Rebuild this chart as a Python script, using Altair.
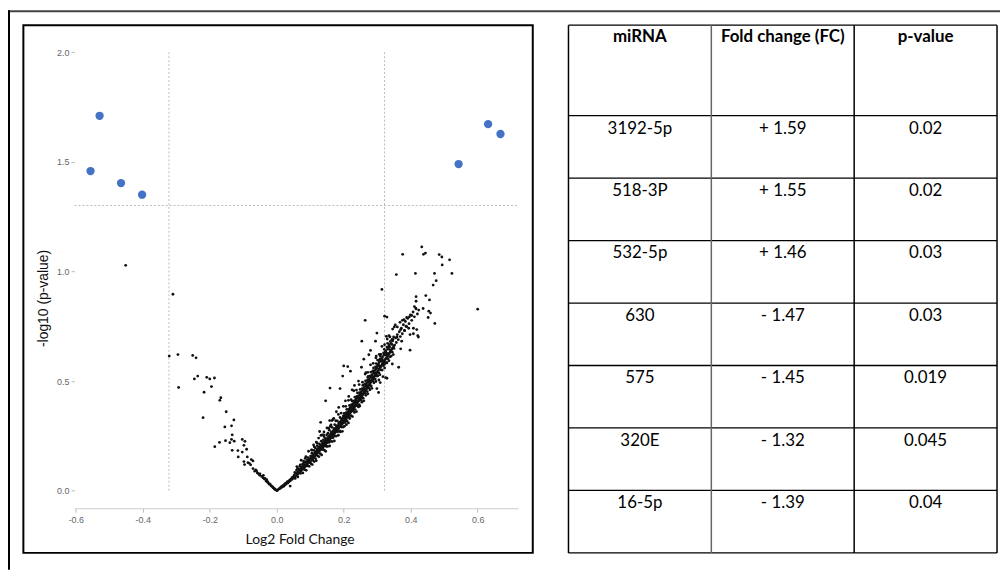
import altair as alt
import pandas as pd

# ---------------- data ----------------
# background miRNAs (log2 FC, -log10 p)
left_arm = [(-0.310,0.896),(-0.321,0.614),(-0.295,0.621),(-0.251,0.617),(-0.241,0.606),(-0.293,0.471),
            (-0.246,0.510),(-0.236,0.523),(-0.209,0.517),(-0.200,0.510),(-0.186,0.514),(-0.195,0.475),
            (-0.217,0.449),(-0.220,0.333),(-0.167,0.424),(-0.170,0.412),(-0.151,0.360),(-0.128,0.323),
            (-0.155,0.291),(-0.135,0.296),(-0.133,0.255),(-0.185,0.201),(-0.171,0.220),(-0.153,0.228),
            (-0.140,0.219),(-0.135,0.234),(-0.127,0.226),(-0.133,0.184),(-0.103,0.234),(-0.095,0.225),
            (-0.098,0.207),(-0.090,0.189),(-0.103,0.176),(-0.116,0.183),(-0.115,0.154),(-0.088,0.154),
            (-0.098,0.133),(-0.086,0.128),(-0.076,0.142),(-0.071,0.136),(-0.096,0.119),(-0.071,0.101),
            (-0.066,0.089),(-0.058,0.081),(-0.051,0.071),(-0.041,0.059),(-0.037,0.053),(-0.032,0.044),
            (-0.027,0.038),(-0.022,0.029),(-0.017,0.023),(-0.011,0.014),(-0.007,0.008),(-0.045,0.065),
            (-0.040,0.070),(-0.035,0.056),(-0.030,0.050),(-0.028,0.042),(-0.025,0.035),(-0.020,0.030),
            (-0.015,0.020),(-0.012,0.017),(-0.008,0.011),(-0.005,0.006),(-0.003,0.004),(-0.060,0.090),
            (-0.063,0.095),(-0.055,0.078),(-0.050,0.077),(-0.078,0.118),(-0.082,0.125),(-0.451,1.028)]

near_vertex = [(0.000,0.001),(0.002,0.002),(0.004,0.005),(0.008,0.009),(0.010,0.013),(0.012,0.012),
               (0.014,0.018),(0.016,0.017),(0.018,0.022),(0.020,0.024),(0.021,0.020),(0.023,0.029),
               (0.025,0.027),(0.026,0.033),(0.028,0.031),(0.030,0.036),(0.031,0.040),(0.033,0.035),
               (0.035,0.044),(0.036,0.040),(0.038,0.047),(0.040,0.045),(0.041,0.052),(0.043,0.049),
               (0.045,0.058),(0.046,0.053),(0.048,0.062),(0.050,0.057),(0.040,0.021)]

band_a = [(0.052,0.071),(0.054,0.062),(0.054,0.083),(0.057,0.079),(0.059,0.069),(0.059,0.094),
          (0.062,0.085),(0.062,0.074),(0.065,0.080),(0.065,0.101),(0.067,0.093),(0.069,0.084),
          (0.069,0.112),(0.072,0.101),(0.072,0.090),(0.074,0.108),(0.074,0.094),(0.077,0.099),
          (0.077,0.121),(0.079,0.113),(0.081,0.104),(0.081,0.128),(0.084,0.119),(0.084,0.109),
          (0.086,0.131),(0.086,0.112),(0.089,0.117),(0.089,0.127),(0.091,0.139),(0.091,0.121),
          (0.093,0.134),(0.093,0.151),(0.096,0.128),(0.096,0.140),(0.098,0.146),(0.098,0.131),
          (0.062,0.100),(0.070,0.118),(0.080,0.135),(0.085,0.147)]

band_b = [(0.101,0.136),(0.101,0.158),(0.103,0.149),(0.105,0.143),(0.105,0.171),(0.105,0.155),
          (0.107,0.147),(0.107,0.160),(0.109,0.166),(0.109,0.150),(0.111,0.153),(0.111,0.184),
          (0.113,0.158),(0.113,0.171),(0.115,0.161),(0.115,0.177),(0.115,0.196),(0.117,0.164),
          (0.117,0.174),(0.119,0.181),(0.119,0.168),(0.121,0.170),(0.121,0.189),(0.121,0.205),
          (0.123,0.175),(0.123,0.186),(0.125,0.178),(0.125,0.197),(0.127,0.181),(0.127,0.192),
          (0.127,0.214),(0.129,0.185),(0.129,0.200),(0.131,0.188),(0.131,0.207),(0.133,0.191),
          (0.133,0.203),(0.133,0.226),(0.135,0.195),(0.135,0.212),(0.137,0.198),(0.137,0.219),
          (0.137,0.208),(0.139,0.201),(0.139,0.232),(0.141,0.205),(0.141,0.216),(0.141,0.247),
          (0.143,0.208),(0.143,0.225),(0.145,0.211),(0.145,0.222),(0.145,0.238),(0.147,0.214),
          (0.147,0.231),(0.149,0.218),(0.149,0.229),(0.149,0.254),
          (0.105,0.185),(0.112,0.200),(0.118,0.222),(0.125,0.240),(0.131,0.312),(0.135,0.255),
          (0.141,0.268),(0.146,0.410),(0.128,0.270)]

band_c = [(0.151,0.221),(0.151,0.236),(0.153,0.225),(0.153,0.243),(0.153,0.262),(0.155,0.229),
          (0.155,0.240),(0.157,0.233),(0.157,0.251),(0.157,0.276),(0.159,0.236),(0.159,0.247),
          (0.161,0.240),(0.161,0.259),(0.161,0.252),(0.163,0.244),(0.163,0.268),(0.165,0.248),
          (0.165,0.261),(0.165,0.289),(0.167,0.252),(0.167,0.266),(0.169,0.255),(0.169,0.274),
          (0.169,0.263),(0.171,0.259),(0.171,0.283),(0.173,0.263),(0.173,0.276),(0.173,0.301),
          (0.175,0.267),(0.175,0.281),(0.177,0.270),(0.177,0.289),(0.177,0.279),(0.179,0.274),
          (0.179,0.297),(0.181,0.278),(0.181,0.291),(0.181,0.318),(0.183,0.282),(0.183,0.296),
          (0.185,0.286),(0.185,0.305),(0.185,0.294),(0.187,0.290),(0.187,0.312),(0.189,0.293),
          (0.189,0.307),(0.189,0.334),(0.191,0.297),(0.191,0.316),(0.193,0.301),(0.193,0.310),
          (0.193,0.327),(0.195,0.305),(0.195,0.322),(0.197,0.308),(0.197,0.331),(0.197,0.318),
          (0.199,0.312),(0.199,0.341),
          (0.158,0.320),(0.155,0.285),(0.162,0.300),(0.170,0.330),(0.159,0.468),(0.189,0.466),
          (0.178,0.360),(0.185,0.380),(0.165,0.320),(0.197,0.523),(0.200,0.569)]

band_d = [(0.201,0.316),(0.201,0.329),(0.201,0.352),(0.203,0.320),(0.203,0.338),(0.205,0.325),
          (0.205,0.344),(0.205,0.334),(0.207,0.329),(0.207,0.356),(0.209,0.333),(0.209,0.349),
          (0.209,0.371),(0.211,0.338),(0.211,0.355),(0.213,0.342),(0.213,0.361),(0.213,0.352),
          (0.215,0.346),(0.215,0.372),(0.217,0.351),(0.217,0.366),(0.217,0.389),(0.219,0.355),
          (0.219,0.376),(0.221,0.359),(0.221,0.381),(0.221,0.370),(0.223,0.364),(0.223,0.393),
          (0.225,0.368),(0.225,0.385),(0.225,0.409),(0.227,0.372),(0.227,0.391),(0.229,0.377),
          (0.229,0.398),(0.229,0.388),(0.231,0.381),(0.231,0.410),(0.233,0.385),(0.233,0.402),
          (0.233,0.427),(0.235,0.390),(0.235,0.412),(0.237,0.394),(0.237,0.419),(0.237,0.406),
          (0.239,0.398),(0.239,0.430),(0.241,0.403),(0.241,0.421),(0.241,0.446),(0.243,0.407),
          (0.243,0.428),(0.245,0.411),(0.245,0.434),(0.245,0.423),(0.247,0.416),(0.247,0.447),
          (0.249,0.420),(0.249,0.438),(0.249,0.462),
          (0.212,0.566),(0.220,0.545),(0.205,0.410),(0.215,0.430),(0.225,0.460),(0.232,0.480),
          (0.244,0.500)]

band_e = [(0.251,0.425),(0.251,0.446),(0.253,0.429),(0.253,0.452),(0.253,0.440),(0.255,0.434),
          (0.255,0.466),(0.257,0.439),(0.257,0.458),(0.257,0.481),(0.259,0.444),(0.259,0.463),
          (0.261,0.448),(0.261,0.471),(0.261,0.459),(0.263,0.453),(0.263,0.487),(0.265,0.458),
          (0.265,0.477),(0.265,0.501),(0.267,0.463),(0.267,0.484),(0.269,0.467),(0.269,0.492),
          (0.269,0.479),(0.271,0.472),(0.271,0.505),(0.273,0.477),(0.273,0.497),(0.273,0.521),
          (0.275,0.482),(0.275,0.503),(0.277,0.486),(0.277,0.509),(0.277,0.498),(0.279,0.491),
          (0.279,0.524),(0.281,0.496),(0.281,0.517),(0.281,0.541),(0.283,0.501),(0.283,0.522),
          (0.285,0.505),(0.285,0.529),(0.285,0.517),(0.287,0.510),(0.287,0.546),(0.289,0.515),
          (0.289,0.536),(0.289,0.560),(0.291,0.520),(0.291,0.542),(0.293,0.524),(0.293,0.549),
          (0.293,0.536),(0.295,0.529),(0.295,0.565),(0.297,0.534),(0.297,0.556),(0.297,0.580),
          (0.299,0.539),(0.299,0.561),
          (0.253,0.563),(0.266,0.538),(0.272,0.517),(0.299,0.523),(0.305,0.505),(0.309,0.493),
          (0.304,0.448),(0.299,0.466),(0.254,0.682),(0.264,0.777),(0.260,0.600),(0.275,0.620),
          (0.280,0.640),(0.295,0.682),(0.299,0.719)]

band_f = [(0.301,0.544),(0.301,0.571),(0.301,0.596),(0.304,0.551),(0.304,0.578),(0.306,0.556),
          (0.306,0.587),(0.306,0.569),(0.309,0.563),(0.309,0.601),(0.311,0.567),(0.311,0.592),
          (0.311,0.622),(0.314,0.575),(0.314,0.604),(0.316,0.579),(0.316,0.611),(0.316,0.595),
          (0.319,0.587),(0.319,0.628),(0.321,0.591),(0.321,0.619),(0.321,0.645),(0.324,0.598),
          (0.324,0.631),(0.326,0.603),(0.326,0.638),(0.326,0.620),(0.329,0.610),(0.329,0.655),
          (0.331,0.615),(0.331,0.646),(0.331,0.672),(0.334,0.622),(0.334,0.658),(0.336,0.627),
          (0.336,0.665),(0.336,0.645),(0.339,0.634),(0.339,0.681),(0.341,0.639),(0.341,0.672),
          (0.344,0.646),(0.344,0.690),(0.346,0.651),(0.346,0.683),(0.349,0.658),(0.349,0.701),
          (0.352,0.664),(0.355,0.697),(0.357,0.676),(0.360,0.712),(0.363,0.689),(0.366,0.725),
          (0.369,0.703),(0.372,0.741),(0.375,0.716),(0.378,0.757),(0.381,0.731),(0.384,0.772),
          (0.388,0.748),(0.391,0.786),(0.395,0.762),(0.399,0.802),(0.403,0.777),(0.407,0.815),
          (0.411,0.793),(0.416,0.829),(0.420,0.806)]

band_lower = [(0.055,0.056),(0.063,0.063),(0.071,0.079),(0.078,0.081),(0.083,0.096),(0.088,0.093),
              (0.092,0.113),(0.097,0.111),(0.102,0.124),(0.106,0.119),(0.108,0.138),(0.112,0.133),
              (0.116,0.146),(0.118,0.137),(0.122,0.159),(0.126,0.155),(0.130,0.169),(0.134,0.163),
              (0.138,0.188),(0.142,0.185),(0.146,0.180),(0.148,0.202),(0.152,0.202),(0.156,0.220),
              (0.158,0.204),(0.162,0.225),(0.166,0.224),(0.168,0.241),(0.172,0.227),(0.174,0.249),
              (0.178,0.249),(0.182,0.269),(0.184,0.253),(0.188,0.273),(0.190,0.268),(0.194,0.290),
              (0.196,0.271),(0.198,0.290),(0.202,0.294),(0.204,0.311),(0.208,0.301),(0.210,0.318),
              (0.214,0.309),(0.216,0.335),(0.218,0.329),(0.222,0.342),(0.226,0.338),(0.228,0.363),
              (0.232,0.357),(0.234,0.370),(0.238,0.361),(0.240,0.387),(0.244,0.382),(0.246,0.393),
              (0.248,0.386),(0.252,0.413),(0.254,0.404),(0.258,0.422),(0.260,0.410),(0.264,0.444),
              (0.266,0.435),(0.270,0.452),(0.272,0.442),(0.276,0.469),(0.278,0.460),(0.282,0.478),
              (0.284,0.467),(0.288,0.500),(0.290,0.492),(0.294,0.509),(0.296,0.498),(0.298,0.526),
              (0.302,0.524),(0.305,0.538),(0.308,0.529),(0.312,0.551),(0.315,0.550),(0.318,0.571),
              (0.322,0.560),(0.325,0.583),(0.328,0.583),(0.332,0.602),(0.335,0.593),(0.338,0.611),
              (0.342,0.614),(0.345,0.632),(0.348,0.621)]

band_upper = [(0.060,0.110),(0.073,0.139),(0.087,0.155),(0.095,0.180),(0.104,0.186),(0.110,0.209),
              (0.120,0.218),(0.132,0.252),(0.140,0.255),(0.150,0.286),(0.160,0.294),(0.168,0.325),
              (0.176,0.319),(0.184,0.348),(0.192,0.354),(0.199,0.385),(0.206,0.385),(0.214,0.412),
              (0.222,0.415),(0.230,0.456),(0.238,0.459),(0.246,0.484),(0.256,0.495),(0.264,0.532),
              (0.272,0.540),(0.280,0.574),(0.288,0.581),(0.296,0.606),(0.306,0.622),(0.314,0.658),
              (0.322,0.666),(0.330,0.692),(0.338,0.702),(0.346,0.737)]

upper_cloud = [(0.433,1.112),(0.444,1.084),(0.438,1.078),(0.376,1.078),(0.485,1.077),(0.493,1.066),
               (0.516,1.053),(0.494,1.030),(0.414,0.991),(0.357,0.986),(0.471,0.991),(0.523,0.991),
               (0.476,0.958),(0.467,0.938),(0.314,0.918),(0.445,0.890),(0.416,0.885),(0.456,0.870),
               (0.416,0.864),(0.411,0.840),(0.415,0.833),(0.437,0.831),(0.424,0.824),(0.454,0.819),
               (0.459,0.810),(0.452,0.790),(0.472,0.763),(0.322,0.796),(0.329,0.792),(0.403,0.799),
               (0.396,0.793),(0.388,0.790),(0.380,0.780),(0.375,0.777),(0.368,0.768),(0.354,0.756),
               (0.351,0.747),(0.360,0.747),(0.386,0.750),(0.394,0.741),(0.408,0.741),(0.418,0.735),
               (0.421,0.707),(0.423,0.701),(0.408,0.716),(0.398,0.712),(0.382,0.730),(0.370,0.735),
               (0.335,0.707),(0.327,0.704),(0.347,0.689),(0.359,0.701),(0.373,0.682),(0.344,0.667),
               (0.337,0.656),(0.350,0.649),(0.370,0.647),(0.398,0.641),(0.364,0.563),(0.325,0.632),
               (0.329,0.626),(0.309,0.614),(0.297,0.614),(0.304,0.596),(0.313,0.590),(0.321,0.576),
               (0.329,0.584),(0.345,0.578),(0.325,0.516),(0.329,0.513),(0.317,0.520),(0.600,0.828)]

# significant miRNAs (blue)
sig_fc = [-0.529, -0.556, -0.465, -0.402, 0.543, 0.631, 0.668]
sig_logp = [1.710, 1.458, 1.403, 1.350, 1.490, 1.672, 1.627]

fc_cut = 0.3219      # log2(1.25)
p_cut = 1.301        # -log10(0.05)

# table
headers = ["miRNA", "Fold change (FC)", "p-value"]
mirna = ["3192-5p", "518-3P", "532-5p", "630", "575", "320E", "16-5p"]
fold_change = ["+ 1.59", "+ 1.55", "+ 1.46", "- 1.47", "- 1.45", "- 1.32", "- 1.39"]
p_value = ["0.02", "0.02", "0.03", "0.03", "0.019", "0.045", "0.04"]

# ---------------- frames ----------------
bg = (left_arm + near_vertex + band_a + band_b + band_c + band_d + band_e + band_f
      + band_lower + band_upper + upper_cloud)
df_bg = pd.DataFrame(bg, columns=["fc", "logp"])
df_sig = pd.DataFrame({"fc": sig_fc, "logp": sig_logp})

XS = alt.Scale(domain=[-0.604, 0.72], range=[67, 514], nice=False, zero=False)
YS = alt.Scale(domain=[-0.08, 2.0], range=[502, 42.3], nice=False, zero=False)

x_axis = alt.Axis(values=[-0.6, -0.4, -0.2, 0, 0.2, 0.4, 0.6], offset=-62, grid=False,
                  labelExpr="replace(format(datum.value, '.1f'), '\u2212', '-')",
                  domainColor="#cccccc", tickColor="#bbbbbb", tickSize=4,
                  labelFont="Liberation Sans", labelFontSize=9, labelColor="#666666", labelPadding=3,
                  title="Log2 Fold Change", titleFont="Lato", titleFontSize=14,
                  titleFontWeight="normal", titleColor="#111111", titleX=294, titleY=32,
                  titleBaseline="middle", titleAlign="center")
y_axis = alt.Axis(values=[0, 0.5, 1.0, 1.5, 2.0], offset=-67, grid=False, domain=False,
                  format=".1f", tickColor="#bbbbbb", tickSize=3.5,
                  labelFont="Liberation Sans", labelFontSize=9, labelColor="#666666", labelPadding=2,
                  title="-log10 (p-value)", titleFont="Liberation Sans", titleFontSize=14,
                  titleFontWeight="normal", titleColor="#111111", titleX=-31, titleY=290,
                  titleAngle=-90, titleBaseline="middle", titleAlign="center")

points = alt.Chart(df_bg).mark_circle(size=8, color="#111111", opacity=1).encode(
    x=alt.X("fc:Q", scale=XS, axis=x_axis),
    y=alt.Y("logp:Q", scale=YS, axis=y_axis),
)

sig = alt.Chart(df_sig).mark_circle(size=70, color="#4472C4", opacity=1).encode(
    x=alt.X("fc:Q", scale=XS, axis=None),
    y=alt.Y("logp:Q", scale=YS, axis=None),
)

vlines = alt.Chart(pd.DataFrame({"fc": [-fc_cut, fc_cut], "lo": [0, 0], "hi": [2.0, 2.0]})).mark_rule(
    color="#bbbbbb", strokeDash=[2, 2], strokeWidth=1).encode(
    x=alt.X("fc:Q", scale=XS, axis=None),
    y=alt.Y("lo:Q", scale=YS, axis=None),
    y2="hi:Q",
)

hline = alt.Chart(pd.DataFrame({"lo": [-0.604], "hi": [0.72], "logp": [p_cut]})).mark_rule(
    color="#bbbbbb", strokeDash=[2, 2], strokeWidth=1).encode(
    x=alt.X("lo:Q", scale=XS, axis=None),
    x2="hi:Q",
    y=alt.Y("logp:Q", scale=YS, axis=None),
)

# ---------------- table ----------------
n = len(mirna)
head_h = 1.45
TX = alt.Scale(domain=[0, 3], range=[565, 997], nice=False, zero=False)
TY = alt.Scale(domain=[0, head_h + n], range=[15, 547], nice=False, zero=False)

cells = []
for c, h in enumerate(headers):
    cells.append({"col": c + 0.5, "row": 0.19, "txt": h, "bold": True})
for i in range(n):
    for c, v in enumerate([mirna[i], fold_change[i], p_value[i]]):
        cells.append({"col": c + 0.5, "row": head_h + i + 0.207, "txt": v, "bold": False})
df_cells = pd.DataFrame(cells)

head_text = alt.Chart(df_cells[df_cells.bold]).mark_text(
    font="Lato", fontSize=17, fontWeight="bold", color="#000000", baseline="middle", align="center").encode(
    x=alt.X("col:Q", scale=TX, axis=None), y=alt.Y("row:Q", scale=TY, axis=None), text="txt:N")
body_text = alt.Chart(df_cells[~df_cells.bold]).mark_text(
    font="Lato", fontSize=17, color="#000000", baseline="middle", align="center").encode(
    x=alt.X("col:Q", scale=TX, axis=None), y=alt.Y("row:Q", scale=TY, axis=None), text="txt:N")

hrows = pd.DataFrame({"r": [0] + [head_h + i for i in range(n + 1)], "a": 0, "b": 3})
h_rules = alt.Chart(hrows).mark_rule(color="#000000", strokeWidth=1.3).encode(
    y=alt.Y("r:Q", scale=TY, axis=None), x=alt.X("a:Q", scale=TX, axis=None), x2="b:Q")
vcols = pd.DataFrame({"c": [0, 1, 2, 3], "a": 0, "b": head_h + n,
                      "clr": ["#000000", "#666666", "#000000", "#000000"]})
v_rules = alt.Chart(vcols).mark_rule(strokeWidth=1.5).encode(
    x=alt.X("c:Q", scale=TX, axis=None), y=alt.Y("a:Q", scale=TY, axis=None), y2="b:Q",
    color=alt.Color("clr:N", scale=None, legend=None))

# ---------------- frames (decoration) ----------------
inner_box = alt.Chart(pd.DataFrame({"k": [0]})).mark_rect(
    fill=None, stroke="#000000", strokeWidth=2).encode(
    x=alt.value(15.5), x2=alt.value(529), y=alt.value(15), y2=alt.value(547))
outer_top = alt.Chart(pd.DataFrame({"k": [0]})).mark_rule(color="#444444", strokeWidth=2).encode(
    x=alt.value(0), x2=alt.value(1000), y=alt.value(1))
outer_left = alt.Chart(pd.DataFrame({"k": [0]})).mark_rule(color="#000000", strokeWidth=2).encode(
    x=alt.value(1), y=alt.value(0), y2=alt.value(564))

chart = alt.layer(
    outer_top, outer_left, inner_box, vlines, hline, points, sig,
    h_rules, v_rules, head_text, body_text,
).resolve_scale(x="independent", y="independent").properties(
    width=1000, height=564, autosize=alt.AutoSizeParams(type="none"), padding=0,
    background="white",
).configure_view(stroke=None)

chart.save("out.html", embed_options={"renderer": "svg", "actions": False})
